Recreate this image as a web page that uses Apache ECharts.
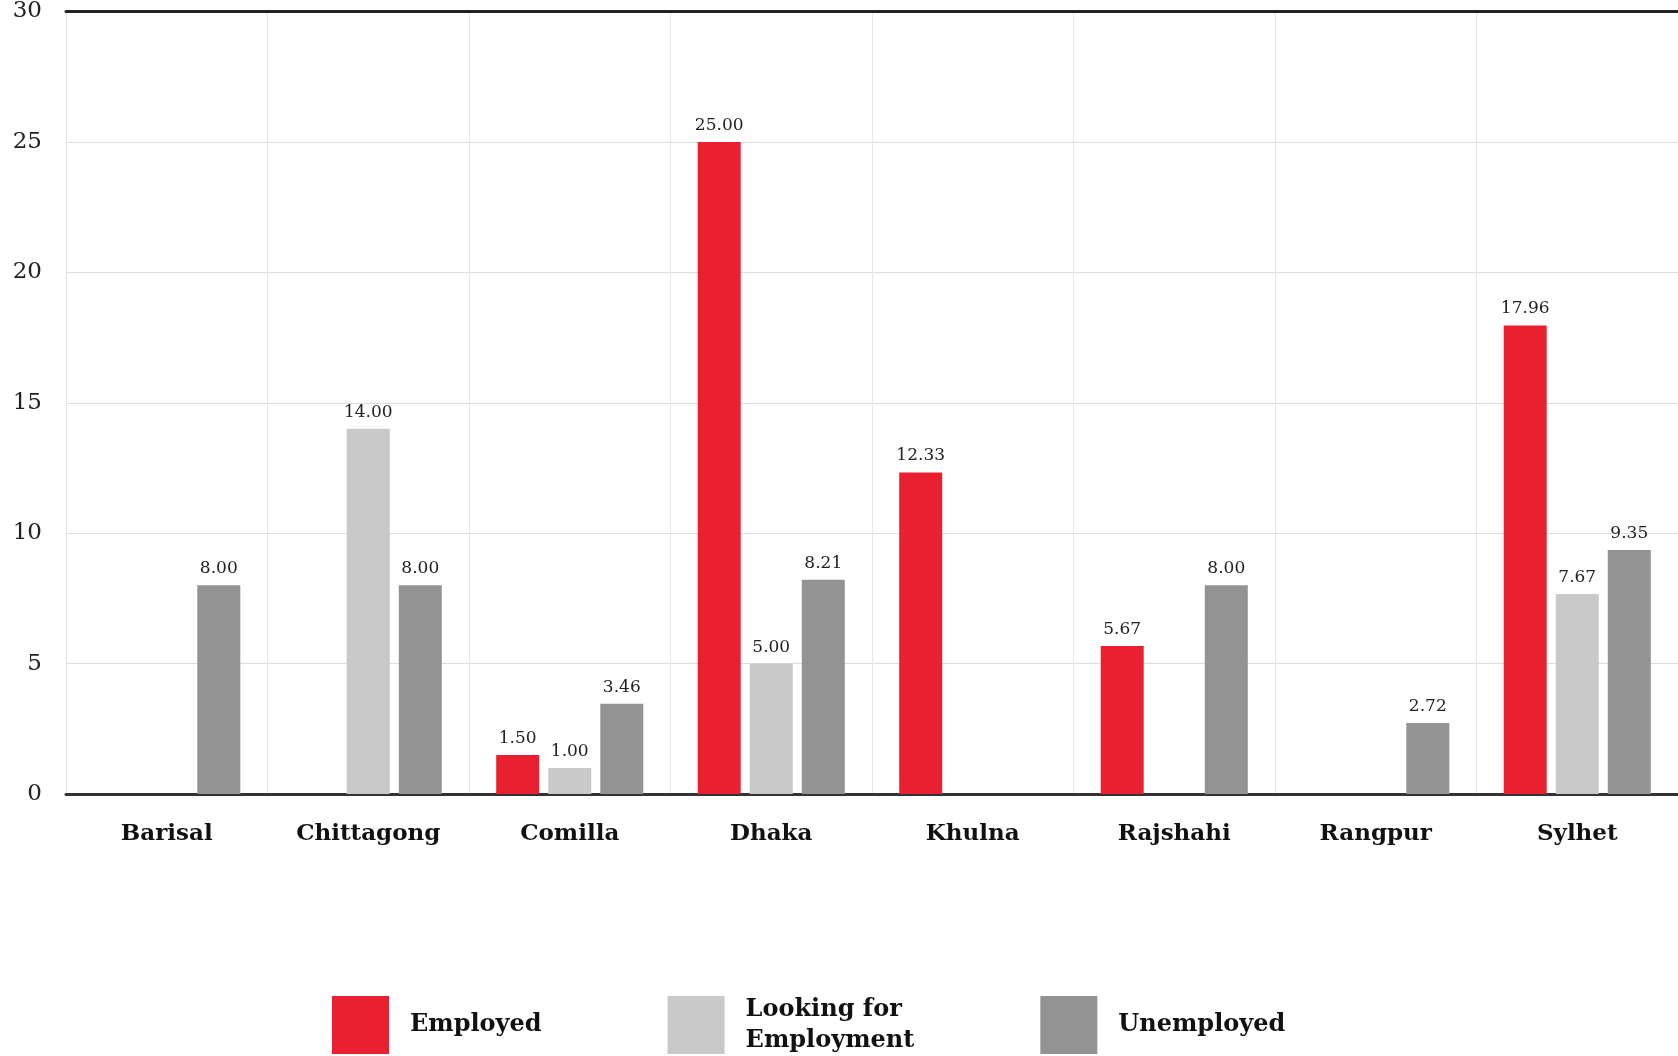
<!DOCTYPE html>
<html>
<head>
<meta charset="utf-8">
<script src="https://cdn.jsdelivr.net/npm/echarts@6/dist/echarts.min.js"></script>
<style>
html,body{margin:0;padding:0;background:#fff;}
#c{width:1678px;height:1056px;}
</style>
</head>
<body>
<div id="c"></div>
<script>
const categories = ['Barisal', 'Chittagong', 'Comilla', 'Dhaka', 'Khulna', 'Rajshahi', 'Rangpur', 'Sylhet'];
const employed = [null, null, 1.50, 25.00, 12.33, 5.67, null, 17.96];
const lookingForEmployment = [null, 14.00, 1.00, 5.00, null, null, null, 7.67];
const unemployed = [8.00, 8.00, 3.46, 8.21, null, 8.00, 2.72, 9.35];
const seriesNames = ['Employed', 'Looking for\nEmployment', 'Unemployed'];

const serif = '"DejaVu Serif", "Liberation Serif", serif';
const chart = echarts.init(document.getElementById('c'));

const labelCfg = {
  show: true,
  position: 'top',
  distance: 8,
  color: '#222',
  fontFamily: serif,
  fontSize: 17,
  formatter: p => (p.value == null ? '' : Number(p.value).toFixed(2))
};

function mk(name, data, color) {
  return {
    name: name,
    type: 'bar',
    data: data,
    barGap: '21%',
    barCategoryGap: '27%',
    itemStyle: { color: color },
    label: labelCfg,
    emphasis: { disabled: true }
  };
}

chart.setOption({
  backgroundColor: '#fff',
  animation: false,
  grid: { left: 66, right: 0, top: 9, bottom: 262, containLabel: false },
  legend: {
    top: 989,
    left: 327,
    itemWidth: 57,
    itemHeight: 58,
    itemGap: 126,
    icon: 'rect',
    textStyle: {
      fontFamily: serif,
      fontWeight: 'bold',
      fontSize: 24,
      color: '#111',
      lineHeight: 31,
      padding: [0, 0, 0, 16]
    },
    data: seriesNames
  },
  xAxis: [{
    type: 'category',
    data: categories,
    position: 'bottom',
    axisLine: { show: true, lineStyle: { color: '#333', width: 3 } },
    axisTick: { show: false },
    axisLabel: {
      margin: 29,
      fontFamily: serif,
      fontWeight: 'bold',
      fontSize: 23,
      color: '#111'
    },
    splitLine: { show: true, lineStyle: { color: '#e6e6e6', width: 1 } }
  }, {
    type: 'category',
    data: categories,
    position: 'top',
    axisLine: { show: true, lineStyle: { color: '#222', width: 3 } },
    axisTick: { show: false },
    axisLabel: { show: false },
    splitLine: { show: false }
  }],
  yAxis: {
    type: 'value',
    min: 0,
    max: 30,
    interval: 5,
    axisLine: { show: false },
    axisTick: { show: false },
    axisLabel: {
      margin: 24,
      fontFamily: serif,
      fontSize: 23,
      color: '#222'
    },
    splitLine: { show: true, lineStyle: { color: '#dcdcdc', width: 1 } }
  },
  series: [
    mk(seriesNames[0], employed, '#E8202F'),
    mk(seriesNames[1], lookingForEmployment, '#C8C9C8'),
    mk(seriesNames[2], unemployed, '#939393')
  ]
});
</script>
</body>
</html>
